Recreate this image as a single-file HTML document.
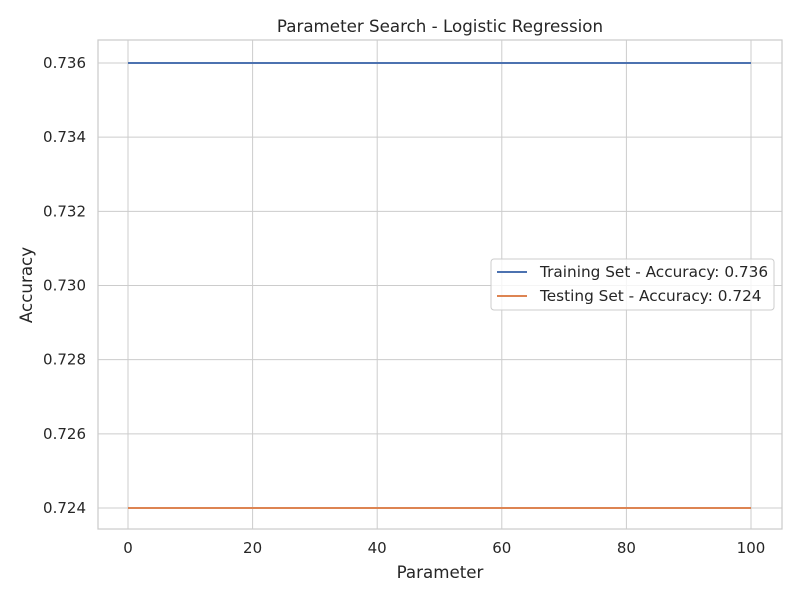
<!DOCTYPE html>
<html><head><meta charset="utf-8"><style>
body{margin:0;background:#fff;}
svg text{font-family:"DejaVu Sans","Liberation Sans",sans-serif;fill:#262626;}
</style></head><body>
<svg id="chart" width="800" height="600" xmlns="http://www.w3.org/2000/svg">
<rect width="800" height="600" fill="#fff"/>
<g id="grid"></g>
<rect x="98" y="40" width="684" height="489" fill="none" stroke="#cccccc" stroke-width="1.25"/>
<g id="ticks"></g>
<g id="lines"></g>
<text x="440" y="32" text-anchor="middle" font-size="16.7">Parameter Search - Logistic Regression</text>
<text x="440" y="578" text-anchor="middle" font-size="16.7">Parameter</text>
<text transform="translate(32,285) rotate(-90)" text-anchor="middle" font-size="16.7">Accuracy</text>
<g>
<rect x="491" y="259" width="283" height="51" rx="3" fill="#fff" fill-opacity="0.8" stroke="#cccccc"/>
<line x1="497" y1="272" x2="527" y2="272" stroke="#4c72b0" stroke-width="2"/>
<text x="540" y="277" font-size="15.3">Training Set - Accuracy: 0.736</text>
<line x1="497" y1="296" x2="527" y2="296" stroke="#dd8452" stroke-width="2"/>
<text x="540" y="301" font-size="15.3">Testing Set - Accuracy: 0.724</text>
</g>
</svg>
<script>
const params = [0, 0.001, 0.01, 0.1, 1, 10, 100];
const trainAcc = [0.736, 0.736, 0.736, 0.736, 0.736, 0.736, 0.736];
const testAcc = [0.724, 0.724, 0.724, 0.724, 0.724, 0.724, 0.724];
const xTicks = [0, 20, 40, 60, 80, 100];
const yTicks = [0.724, 0.726, 0.728, 0.730, 0.732, 0.734, 0.736];

const NS = "http://www.w3.org/2000/svg";
const xs = v => 128 + (v - 0) * (751 - 128) / 100;
const ys = v => 508 - (v - 0.724) * (508 - 63) / 0.012;
function mk(tag, attrs, parent){const e=document.createElementNS(NS,tag);for(const k in attrs)e.setAttribute(k,attrs[k]);parent.appendChild(e);return e;}
const grid=document.getElementById('grid'), ticks=document.getElementById('ticks'), lines=document.getElementById('lines');
xTicks.forEach(t=>{
  const l=mk('line',{x1:xs(t),x2:xs(t),y1:40,y2:529,stroke:'#cccccc','stroke-width':1},grid);
  
  
  const tx=mk('text',{x:xs(t),y:553,'text-anchor':'middle','font-size':15},ticks);
  tx.textContent=t;
  
  
});
yTicks.forEach(t=>{
  const l=mk('line',{x1:98,x2:782,y1:ys(t),y2:ys(t),stroke:'#cccccc','stroke-width':1},grid);
  
  
  const tx=mk('text',{x:86,y:ys(t)+5,'text-anchor':'end','font-size':15},ticks);
  tx.textContent=t.toFixed(3);
  
  
});
function series(vals,color,name){
  const p=mk('polyline',{points:params.map((x,i)=>xs(x)+','+ys(vals[i])).join(' '),fill:'none',stroke:color,'stroke-width':2},lines);
  
  
}
series(trainAcc,'#4c72b0','training-line');
series(testAcc,'#dd8452','testing-line');
</script>
</body></html>
